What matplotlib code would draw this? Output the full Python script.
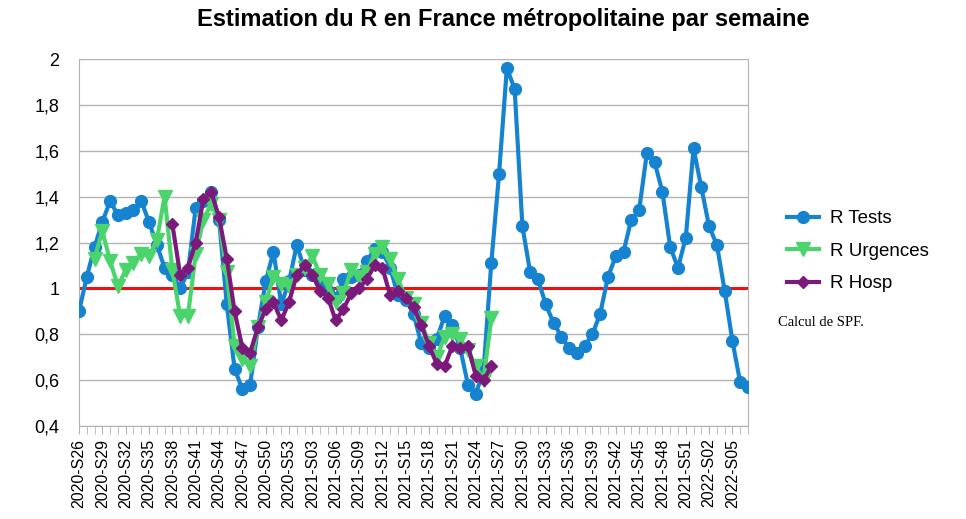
import numpy as np
import matplotlib.pyplot as plt
from matplotlib.ticker import FuncFormatter

# week categories 2020-S26 .. 2022-S07
weeks = []
for w in range(26, 54):
    weeks.append("2020-S%02d" % w)
for w in range(1, 53):
    weeks.append("2021-S%02d" % w)
for w in range(1, 8):
    weeks.append("2022-S%02d" % w)

r_tests = [0.90, 1.05, 1.18, 1.29, 1.38, 1.32, 1.33, 1.34, 1.38, 1.29,
           1.19, 1.09, 1.06, 1.00, 1.07, 1.35, 1.38, 1.42, 1.30, 0.93,
           0.65, 0.56, 0.58, 0.83, 1.03, 1.16, 0.93, 1.03, 1.19, 1.08,
           1.06, 1.03, 0.99, 0.96, 1.04, 1.05, 1.06, 1.12, 1.17, 1.16,
           1.09, 0.97, 0.95, 0.89, 0.76, 0.74, 0.78, 0.88, 0.84, 0.74,
           0.58, 0.54, 0.64, 1.11, 1.50, 1.96, 1.87, 1.27, 1.07, 1.04,
           0.93, 0.85, 0.79, 0.74, 0.72, 0.75, 0.80, 0.89, 1.05, 1.14,
           1.16, 1.30, 1.34, 1.59, 1.55, 1.42, 1.18, 1.09, 1.22, 1.61,
           1.44, 1.27, 1.19, 0.99, 0.77, 0.59, 0.57]

# R Urgences starts at index 2, ends at index 53
r_urg = [1.13, 1.25, 1.12, 1.01, 1.08, 1.11, 1.15, 1.14, 1.21, 1.40,
         1.08, 0.88, 0.88, 1.15, 1.30, 1.37, 1.30, 1.07, 0.75, 0.69,
         0.66, 0.83, 0.94, 1.05, 1.02, 1.01, 1.06, 1.09, 1.14, 1.06,
         1.02, 0.94, 0.98, 1.08, 1.05, 1.07, 1.15, 1.18, 1.13, 1.04,
         0.96, 0.93, 0.85, 0.76, 0.70, 0.79, 0.80, 0.78, 0.73, 0.66,
         0.60, 0.87]

# R Hosp starts at index 12, ends at index 53
r_hosp = [1.28, 1.06, 1.09, 1.20, 1.39, 1.42, 1.31, 1.13, 0.90, 0.74,
          0.72, 0.83, 0.91, 0.94, 0.86, 0.94, 1.06, 1.10, 1.06, 0.99,
          0.96, 0.86, 0.91, 0.98, 1.00, 1.04, 1.10, 1.09, 0.97, 0.99,
          0.96, 0.92, 0.84, 0.75, 0.67, 0.66, 0.75, 0.74, 0.75, 0.62,
          0.60, 0.66]

blue = "#1583d0"
green = "#4cd46c"
purple = "#7b1a7b"
grid_col = "#b3b3b3"

plt.rcParams["font.family"] = ["Liberation Sans", "DejaVu Sans"]

fig = plt.figure(figsize=(9.66, 5.19), dpi=100)
ax = fig.add_axes([79/966, 1-426/519, (748-79)/966, (426-59)/519])

x_t = np.arange(len(r_tests))
x_u = np.arange(2, 2 + len(r_urg))
x_h = np.arange(12, 12 + len(r_hosp))

ax.axhline(1, color="#ee1111", lw=2.2, zorder=1)
l1, = ax.plot(x_t, r_tests, color=blue, lw=3, marker="o", ms=8.5, zorder=3, label="R Tests")
l2, = ax.plot(x_u, r_urg, color=green, lw=3, marker="v", ms=9.5, zorder=4, label="R Urgences")
l3, = ax.plot(x_h, r_hosp, color=purple, lw=3, marker="D", ms=6.5, zorder=5, label="R Hosp")

ax.set_xlim(0, len(weeks) - 1)
ax.set_ylim(0.4, 2.0)
ax.set_yticks(np.arange(0.4, 2.01, 0.2))
ax.yaxis.set_major_formatter(FuncFormatter(lambda v, p: ("%.1f" % v).replace(".", ",").replace(",0", "")))
ax.grid(axis="y", color=grid_col, lw=1)
ax.set_axisbelow(True)
ax.tick_params(axis="y", length=0, labelsize=13, pad=14)

ax.set_xticks(np.arange(len(weeks)), minor=True)
ax.set_xticks(np.arange(0, len(weeks), 3))
ax.set_xticklabels(weeks[::3], rotation=90, fontsize=11.5)
ax.tick_params(axis="x", which="both", length=6, color=grid_col, direction="out", pad=3)

for s in ax.spines.values():
    s.set_color(grid_col)
ax.spines["top"].set_visible(False)

fig.text(0.521, 0.962, "Estimation du R en France métropolitaine par semaine",
         ha="center", va="center", fontsize=17, fontweight="bold")

fig.legend(handles=[l1, l2, l3], loc="upper left", bbox_to_anchor=(0.797, 0.628),
           frameon=False, fontsize=13.5, handlelength=1.7, labelspacing=0.82,
           handletextpad=0.6)
fig.text(0.805, 0.378, "Calcul de SPF.", fontsize=10.5,
         family=["Liberation Serif", "DejaVu Serif"], va="center")

fig.savefig("out.png", dpi=100)
